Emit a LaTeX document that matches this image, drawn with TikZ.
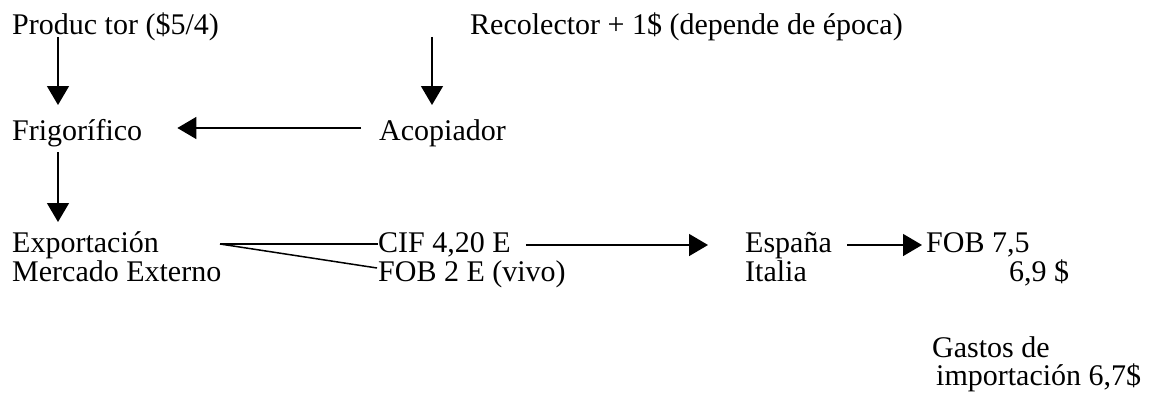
\documentclass[tikz,border=0pt]{standalone}
\usepackage{fontspec}
\setmainfont{Liberation Serif}
\usetikzlibrary{arrows.meta,calc}
\begin{document}
\begin{tikzpicture}[x=1pt,y=-1pt,
  txt/.style={anchor=base west,inner sep=0pt,font=\fontsize{30}{36}\selectfont},
  arr/.style={-{Triangle[length=19pt,width=22pt]},line width=1.5pt},
  ln/.style={line width=1.5pt}]
\fill[white] (0,0) rectangle (1151,396);
\useasboundingbox (0,0) rectangle (1151,396);
\node[txt] (prod) at (12,35) {Produc tor (\$5/4)};
\node[txt] (rec) at (470,35) {Recolector + 1\$ (depende de época)};
\node[txt] (frig) at (12,140) {Frigorífico};
\node[txt] (acop) at (379,140) {Acopiador};
\node[txt] (exp) at (12,252) {Exportación};
\node[txt] (merc) at (12,281) {Mercado Externo};
\node[txt] (cif) at (378,252) {CIF 4,20 E};
\node[txt] (fob2) at (378,281) {FOB 2 E (vivo)};
\node[txt] (esp) at (745,252) {España};
\node[txt] (ita) at (745,281) {Italia};
\node[txt] (fob7) at (926,252) {FOB 7,5};
\node[txt] (usd) at (1009,281) {6,9 \$};
\node[txt] (gas) at (932,357) {Gastos de};
\node[txt] (imp) at (936,385) {importación 6,7\$};
% connectors
\draw[arr] ($(prod.base west)+(46,2)$) -- ($(frig.base west)+(46,-35)$);
\draw[arr] ($(rec.base west)+(-38,2)$) -- ($(acop.base west)+(53,-35)$);
\draw[arr] ($(acop.base west)+(-18,-12)$) -- ($(frig.base east)+(35,-12)$);
\draw[arr] ($(frig.base west)+(46,12)$) -- ($(exp.base west)+(46,-30)$);
\coordinate (fork) at ($(exp.base east)+(61,-8)$);
\draw[ln] (fork) -- ($(cif.base west)+(0,-8)$);
\draw[ln] (fork) -- ($(fob2.base west)+(-1,-13)$);
\draw[arr] ($(cif.base east)+(15,-7)$) -- ($(esp.base west)+(-37,-7)$);
\draw[arr] ($(esp.base east)+(15,-7)$) -- ($(fob7.base west)+(-4,-7)$);
\end{tikzpicture}
\end{document}
